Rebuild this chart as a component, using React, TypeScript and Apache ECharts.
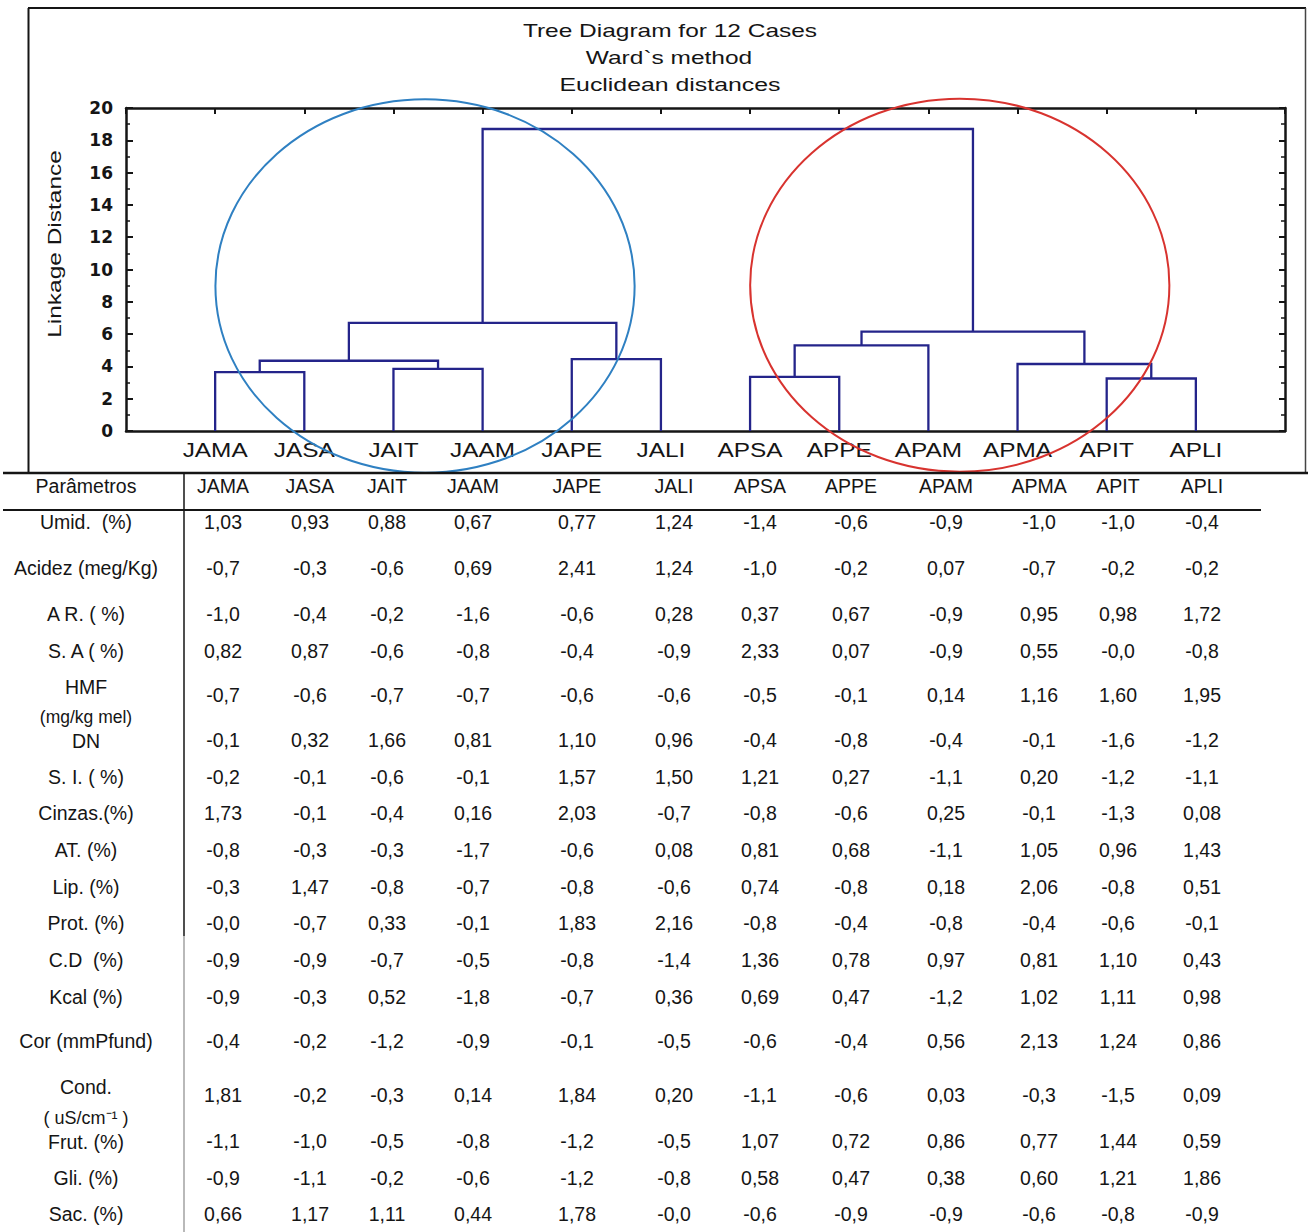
import React, { useEffect, useRef } from 'react';
import * as echarts from 'echarts';

// ---------------- Dendrogram data ----------------
const cases = ['JAMA', 'JASA', 'JAIT', 'JAAM', 'JAPE', 'JALI', 'APSA', 'APPE', 'APAM', 'APMA', 'APIT', 'APLI'];
// Ward linkage: leaves 0..11, merged clusters numbered 12.. in order
const mergeA = [10, 6, 0, 2, 9, 14, 4, 13, 19, 17, 21];
const mergeB = [11, 7, 1, 3, 12, 15, 5, 8, 16, 18, 20];
const mergeHeight = [3.25, 3.35, 3.65, 3.85, 4.15, 4.35, 4.45, 5.3, 6.15, 6.7, 18.7];

const yMin = 0;
const yMax = 20;
const yInterval = 2;

// group ellipses (annotation, in data units: centre x, centre y, radius x, radius y)
const ringCx = [3.354, 9.352];
const ringCy = [8.98, 9.03];
const ringRx = [2.351, 2.351];
const ringRy = [11.56, 11.55];
const ringColors = ['#2f80c2', '#d8332f'];

// ---------------- Table data ----------------
const tableHeader = 'Parâmetros';
const paramLabels = [
  ['Umid.  (%)'],
  ['Acidez (meg/Kg)'],
  ['A R. ( %)'],
  ['S. A ( %)'],
  ['HMF', '(mg/kg mel)'],
  ['DN'],
  ['S. I. ( %)'],
  ['Cinzas.(%)'],
  ['AT. (%)'],
  ['Lip. (%)'],
  ['Prot. (%)'],
  ['C.D  (%)'],
  ['Kcal (%)'],
  ['Cor (mmPfund)'],
  ['Cond.', '( uS/cm⁻¹ )'],
  ['Frut. (%)'],
  ['Gli. (%)'],
  ['Sac. (%)'],
];
const umid = ['1,03', '0,93', '0,88', '0,67', '0,77', '1,24', '-1,4', '-0,6', '-0,9', '-1,0', '-1,0', '-0,4'];
const acidez = ['-0,7', '-0,3', '-0,6', '0,69', '2,41', '1,24', '-1,0', '-0,2', '0,07', '-0,7', '-0,2', '-0,2'];
const ar = ['-1,0', '-0,4', '-0,2', '-1,6', '-0,6', '0,28', '0,37', '0,67', '-0,9', '0,95', '0,98', '1,72'];
const sa = ['0,82', '0,87', '-0,6', '-0,8', '-0,4', '-0,9', '2,33', '0,07', '-0,9', '0,55', '-0,0', '-0,8'];
const hmf = ['-0,7', '-0,6', '-0,7', '-0,7', '-0,6', '-0,6', '-0,5', '-0,1', '0,14', '1,16', '1,60', '1,95'];
const dn = ['-0,1', '0,32', '1,66', '0,81', '1,10', '0,96', '-0,4', '-0,8', '-0,4', '-0,1', '-1,6', '-1,2'];
const si = ['-0,2', '-0,1', '-0,6', '-0,1', '1,57', '1,50', '1,21', '0,27', '-1,1', '0,20', '-1,2', '-1,1'];
const cinzas = ['1,73', '-0,1', '-0,4', '0,16', '2,03', '-0,7', '-0,8', '-0,6', '0,25', '-0,1', '-1,3', '0,08'];
const at = ['-0,8', '-0,3', '-0,3', '-1,7', '-0,6', '0,08', '0,81', '0,68', '-1,1', '1,05', '0,96', '1,43'];
const lip = ['-0,3', '1,47', '-0,8', '-0,7', '-0,8', '-0,6', '0,74', '-0,8', '0,18', '2,06', '-0,8', '0,51'];
const prot = ['-0,0', '-0,7', '0,33', '-0,1', '1,83', '2,16', '-0,8', '-0,4', '-0,8', '-0,4', '-0,6', '-0,1'];
const cd = ['-0,9', '-0,9', '-0,7', '-0,5', '-0,8', '-1,4', '1,36', '0,78', '0,97', '0,81', '1,10', '0,43'];
const kcal = ['-0,9', '-0,3', '0,52', '-1,8', '-0,7', '0,36', '0,69', '0,47', '-1,2', '1,02', '1,11', '0,98'];
const cor = ['-0,4', '-0,2', '-1,2', '-0,9', '-0,1', '-0,5', '-0,6', '-0,4', '0,56', '2,13', '1,24', '0,86'];
const cond = ['1,81', '-0,2', '-0,3', '0,14', '1,84', '0,20', '-1,1', '-0,6', '0,03', '-0,3', '-1,5', '0,09'];
const frut = ['-1,1', '-1,0', '-0,5', '-0,8', '-1,2', '-0,5', '1,07', '0,72', '0,86', '0,77', '1,44', '0,59'];
const gli = ['-0,9', '-1,1', '-0,2', '-0,6', '-1,2', '-0,8', '0,58', '0,47', '0,38', '0,60', '1,21', '1,86'];
const sac = ['0,66', '1,17', '1,11', '0,44', '1,78', '-0,0', '-0,6', '-0,9', '-0,9', '-0,6', '-0,8', '-0,9'];
const tableRows = [umid, acidez, ar, sa, hmf, dn, si, cinzas, at, lip, prot, cd, kcal, cor, cond, frut, gli, sac];

// ---------------- Layout (pixels) ----------------
const colX = [223, 310, 387, 473, 577, 674, 760, 851, 946, 1039, 1118, 1202];
const labelX = 86;
const headerY = 486;
const rowValueY = [522, 568, 614, 651, 695, 740, 777, 813, 850, 887, 923, 960, 997, 1041, 1095, 1141, 1178, 1214];
const rowLabelY = [[522], [568], [614], [651], [687, 717], [741], [777], [813], [850], [887], [923], [960], [997], [1041], [1087, 1118], [1142], [1178], [1214]];
const rowLabelSize = [[19.5], [19.5], [19.5], [19.5], [19.5, 17.5], [19.5], [19.5], [19.5], [19.5], [19.5], [19.5], [19.5], [19.5], [19.5], [19.5, 18], [19.5], [19.5], [19.5]];

const INK = '#151515';
const TREE = '#24248a';
const SANS = '"Liberation Sans", Arial, sans-serif';

function txt(text: string, x: number, y: number, o: any = {}) {
  return {
    type: 'text',
    x,
    y,
    scaleX: o.scaleX ?? 1,
    rotation: o.rotation ?? 0,
    silent: true,
    z: 10,
    style: {
      text,
      x: 0,
      y: 0,
      fontSize: o.fontSize ?? 19.5,
      fontFamily: o.fontFamily ?? SANS,
      fontWeight: o.fontWeight ?? 'normal',
      fill: o.fill ?? INK,
      textAlign: o.align ?? 'center',
      textVerticalAlign: 'middle',
      align: o.align ?? 'center',
      verticalAlign: 'middle',
    },
  };
}

function hline(x1: number, x2: number, y: number, w: number, c = INK) {
  return { type: 'line', silent: true, z: 10, shape: { x1, y1: y, x2, y2: y }, style: { stroke: c, lineWidth: w } };
}
function vline(x: number, y1: number, y2: number, w: number, c = INK) {
  return { type: 'line', silent: true, z: 10, shape: { x1: x, y1, x2: x, y2 }, style: { stroke: c, lineWidth: w } };
}

export default function App() {
  const ref = useRef<HTMLDivElement>(null);

  useEffect(() => {
    if (!ref.current) return;
    const chart = echarts.init(ref.current, null, { renderer: 'svg' });

    // dendrogram segments from linkage
    const nodeX: number[] = cases.map((_, i) => i + 1);
    const nodeH: number[] = cases.map(() => 0);
    const segments = mergeA.map((a, k) => {
      const b = mergeB[k];
      const h = mergeHeight[k];
      const seg = {
        coords: [
          [nodeX[a], nodeH[a]],
          [nodeX[a], h],
          [nodeX[b], h],
          [nodeX[b], nodeH[b]],
        ],
      };
      nodeX.push((nodeX[a] + nodeX[b]) / 2);
      nodeH.push(h);
      return seg;
    });

    const graphic: any[] = [];
    // outer frame of the STATISTICA plot
    graphic.push(hline(28, 1306, 8, 2));
    graphic.push(vline(28.5, 8, 473, 2));
    graphic.push(vline(1305.5, 8, 473, 1.5, '#444'));
    // title
    graphic.push(txt('Tree Diagram for 12 Cases', 670, 31, { fontSize: 17.5, scaleX: 1.4 }));
    graphic.push(txt('Ward`s method', 669, 58, { fontSize: 17.5, scaleX: 1.4 }));
    graphic.push(txt('Euclidean distances', 670, 85, { fontSize: 17.5, scaleX: 1.42 }));
    // y axis name
    graphic.push(txt('Linkage Distance', 55, 244, { fontSize: 18, scaleX: 1.36, rotation: Math.PI / 2 }));

    // table lines
    graphic.push(hline(3, 1308, 473, 2.5));
    graphic.push(hline(3, 1261, 510, 2));
    graphic.push(vline(184, 473, 936, 1.5));
    graphic.push(vline(184, 936, 1232, 1.2, '#8a8a8a'));
    // table header
    graphic.push(txt(tableHeader, labelX, headerY));
    cases.forEach((c, j) => graphic.push(txt(c, colX[j], headerY)));
    // table body
    paramLabels.forEach((lines, r) => {
      lines.forEach((line, l) => graphic.push(txt(line, labelX, rowLabelY[r][l], { fontSize: rowLabelSize[r][l] })));
      tableRows[r].forEach((v, j) => graphic.push(txt(v, colX[j], rowValueY[r])));
    });

    const axisLine = { show: true, onZero: false, lineStyle: { color: INK, width: 2.5 } };

    chart.setOption({
      animation: false,
      backgroundColor: '#ffffff',
      grid: { left: 126, top: 108, width: 1159, height: 323, containLabel: false },
      xAxis: [
        {
          type: 'value', min: 0, max: cases.length + 1, interval: 1, position: 'bottom',
          axisLine, axisTick: { show: false }, axisLabel: { show: false }, splitLine: { show: false },
        },
        {
          type: 'value', min: 0, max: cases.length + 1, interval: 1, position: 'top',
          axisLine, axisTick: { show: true, inside: true, length: 6, lineStyle: { color: INK, width: 2 } },
          axisLabel: { show: false }, splitLine: { show: false },
        },
      ],
      yAxis: [
        {
          type: 'value', min: yMin, max: yMax, interval: yInterval, position: 'left',
          axisLine,
          axisTick: { show: true, inside: true, length: 7, lineStyle: { color: INK, width: 2 } },
          minorTick: { show: true, splitNumber: 2, length: 4, lineStyle: { color: INK, width: 1.5 } },
          axisLabel: {
            show: true, margin: 13, color: INK, fontSize: 17,
            fontFamily: '"DejaVu Sans", sans-serif', fontWeight: 'bold',
          },
          splitLine: { show: false },
        },
        {
          type: 'value', min: yMin, max: yMax, interval: yInterval, position: 'right',
          axisLine,
          axisTick: { show: true, inside: true, length: 6, lineStyle: { color: INK, width: 2 } },
          minorTick: { show: true, splitNumber: 2, length: 4, lineStyle: { color: INK, width: 1.5 } },
          axisLabel: { show: false },
          splitLine: { show: false },
        },
      ],
      series: [
        {
          type: 'lines',
          coordinateSystem: 'cartesian2d',
          xAxisIndex: 0,
          yAxisIndex: 0,
          polyline: true,
          silent: true,
          z: 3,
          lineStyle: { color: TREE, width: 2.3, opacity: 1 },
          data: segments,
        },
        {
          type: 'custom',
          coordinateSystem: 'cartesian2d',
          xAxisIndex: 0,
          yAxisIndex: 0,
          silent: true,
          z: 4,
          data: cases.map((_, i) => [i + 1, 0]),
          renderItem: (params: any, api: any) => {
            const p = api.coord([api.value(0), api.value(1)]);
            return {
              type: 'text',
              x: p[0],
              y: p[1] + 19,
              scaleX: 1.25,
              style: {
                text: cases[params.dataIndex],
                fontSize: 19.5,
                fontFamily: SANS,
                fill: INK,
                textAlign: 'center',
                textVerticalAlign: 'middle',
                align: 'center',
                verticalAlign: 'middle',
              },
            };
          },
        },
        {
          type: 'custom',
          coordinateSystem: 'cartesian2d',
          xAxisIndex: 0,
          yAxisIndex: 0,
          silent: true,
          z: 6,
          clip: false,
          data: ringCx.map((cx, i) => [cx, ringCy[i], ringRx[i], ringRy[i]]),
          renderItem: (params: any, api: any) => {
            const c = api.coord([api.value(0), api.value(1)]);
            const s = api.size([api.value(2), api.value(3)]);
            return {
              type: 'ellipse',
              shape: { cx: c[0], cy: c[1], rx: s[0], ry: s[1] },
              style: { fill: 'none', stroke: ringColors[params.dataIndex], lineWidth: 2 },
            };
          },
        },
      ],
      graphic,
    });

    return () => chart.dispose();
  }, []);

  return <div ref={ref} style={{ position: 'absolute', left: 0, top: 0, width: 1308, height: 1232 }} />;
}
